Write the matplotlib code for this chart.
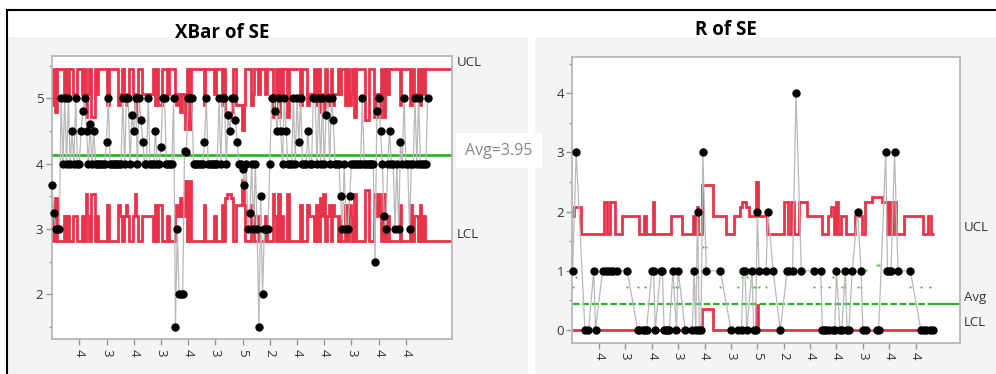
import numpy as np
import matplotlib
matplotlib.use('Agg')
import matplotlib.pyplot as plt
from matplotlib.patches import Rectangle
from matplotlib.lines import Line2D
from matplotlib.ticker import MultipleLocator

plt.rcParams['font.family'] = ['Open Sans', 'DejaVu Sans']

# ---------------- data
# subgroup means (XBar chart)
xbar = [3.67, 3.25, 3.0, 3.0, 3.0, 5.0, 4.0, 5.0, 4.0, 5.0,
        4.0, 4.5, 4.0, 5.0, 4.0, 4.0, 4.5, 4.8, 5.0, 4.5,
        4.0, 4.6, 4.0, 4.5, 4.0, 4.0, 4.0, 4.0, 4.0, 4.0,
        4.33, 5.0, 4.0, 4.0, 4.0, 4.0, 4.0, 4.0, 4.0, 5.0,
        4.0, 5.0, 5.0, 4.0, 4.75, 4.5, 5.0, 4.0, 5.0, 4.67,
        4.33, 4.0, 4.0, 5.0, 4.0, 4.0, 4.0, 4.5, 4.0, 4.0,
        4.25, 5.0, 5.0, 4.0, 4.0, 4.0, 4.0, 5.0, 1.5, 3.0,
        2.0, 2.0, 2.0, 4.2, 4.18, 5.0, 5.0, 5.0, 4.0, 4.0,
        4.0, 4.0, 4.0, 4.0, 4.33, 5.0, 4.0, 4.0, 4.0, 4.0,
        4.0, 4.0, 5.0, 4.0, 5.0, 5.0, 4.0, 4.75, 4.5, 5.0,
        5.0, 4.67, 4.33, 4.0, 4.0, 3.92, 3.67, 4.0, 3.0, 3.25,
        4.0, 3.0, 4.0, 3.0, 1.5, 3.5, 2.0, 3.0, 3.0, 3.0,
        4.0, 5.0, 5.0, 4.8, 4.5, 5.0, 4.5, 4.0, 5.0, 4.5,
        4.0, 4.0, 4.0, 5.0, 4.0, 5.0, 4.33, 5.0, 4.0, 4.0,
        4.0, 4.5, 4.0, 4.0, 5.0, 5.0, 4.0, 5.0, 4.0, 5.0,
        4.0, 4.75, 5.0, 4.0, 5.0, 4.67, 4.0, 4.0, 4.0, 3.5,
        3.0, 4.0, 3.0, 3.0, 3.5, 4.0, 4.0, 4.0, 4.0, 4.0,
        4.0, 5.0, 4.0, 4.0, 4.0, 4.0, 4.0, 4.0, 2.5, 4.8,
        5.0, 4.5, 4.0, 3.2, 3.0, 4.0, 4.5, 4.0, 4.0, 3.0,
        4.0, 3.0, 4.33, 4.0, 5.0, 4.0, 4.0, 3.0, 4.0, 4.0,
        5.0, 4.0, 5.0, 4.0, 4.0, 4.0, 4.0, 5.0]

# subgroup ranges (R chart), None where the subgroup has one value
_ = None
r_range = [1, _, 3, _, _, _, _, 0, _, 0,
           _, _, 1, 0, _, _, _, 1, _, 1,
           1, _, 1, 1, _, 1, _, _, _, _,
           _, 1, _, _, _, _, _, 0, 0, _,
           0, 0, 0, _, _, 1, 1, 0, _, _,
           1, 1, 0, 0, 0, 0, _, 1, _, 0,
           1, _, _, _, 0, _, _, _, 0, 1,
           0, 2, 0, 0, 3, _, 1, _, _, _,
           _, _, _, _, 1, _, _, _, _, _,
           0, _, _, _, 0, _, 0, 1, 1, 0,
           _, _, 1, 0, 0, 2, 1, _, _, _,
           1, 2, _, _, 1, _, _, _, 0, _,
           _, _, 1, 1, _, 1, _, 4, _, _,
           1, _, _, _, _, _, _, 1, _, _,
           _, 1, 0, 0, 0, _, 0, _, 0, 0,
           1, _, 0, 0, _, 1, 0, 0, _, 1,
           _, _, 2, _, 1, 0, _, 0, _, _,
           _, _, _, 0, 0, _, _, _, 3, 1,
           1, 1, _, 3, _, 1, _, _, _, _,
           _, _, 1, _, _, _, _, _, 0, _,
           0, 0, _, 0, _, 0, _, _]

# subgroup sample sizes
n_size = [3, 1, 4, 1, 1, 1, 1, 2, 1, 2,
          1, 1, 2, 2, 1, 1, 1, 2, 1, 5,
          2, 1, 5, 5, 1, 2, 1, 1, 1, 1,
          1, 3, 1, 1, 1, 1, 1, 3, 2, 1,
          2, 3, 2, 1, 1, 2, 5, 2, 1, 1,
          2, 2, 2, 2, 2, 2, 1, 3, 1, 3,
          3, 1, 1, 1, 2, 1, 1, 1, 2, 3,
          2, 4, 2, 2, 11, 1, 11, 1, 1, 1,
          1, 1, 1, 1, 3, 1, 1, 1, 1, 1,
          2, 1, 1, 1, 3, 1, 4, 5, 5, 4,
          1, 1, 3, 3, 3, 12, 3, 1, 1, 1,
          3, 2, 1, 1, 2, 1, 1, 1, 2, 1,
          1, 1, 5, 2, 1, 5, 1, 2, 1, 1,
          5, 1, 1, 1, 1, 1, 1, 3, 1, 1,
          1, 3, 2, 2, 2, 1, 3, 1, 4, 2,
          5, 1, 2, 3, 1, 3, 2, 2, 1, 2,
          1, 1, 3, 1, 3, 2, 1, 5, 1, 1,
          1, 1, 1, 6, 6, 1, 1, 1, 5, 2,
          5, 2, 1, 5, 1, 2, 1, 1, 1, 1,
          1, 1, 3, 1, 1, 1, 1, 1, 3, 1,
          2, 2, 1, 3, 1, 2, 1, 1]

tick_pos = [15, 30, 45, 60, 75, 90, 105, 120, 135, 150, 165, 180, 195]
tick_labels = ['4', '3', '4', '3', '4', '3', '5', '2', '4', '4', '3', '4', '4']

# limit levels, by sample size
xbar_center = 4.13
xbar_half = {1: 1.32, 2: 0.93, 3: 0.76, 4: 0.66, 5: 0.59, 6: 0.54, 11: 0.40, 12: 0.38}
r_ucl = {2: 1.63, 3: 1.93, 4: 2.08, 5: 2.17, 6: 2.24, 11: 2.45, 12: 2.5}
r_lcl = {2: 0.0, 3: 0.0, 4: 0.0, 5: 0.0, 6: 0.0, 11: 0.35, 12: 0.42}
r_center = {2: 0.44, 3: 0.73, 4: 0.9, 5: 1.02, 6: 1.1, 11: 1.4, 12: 1.45}

RED = '#e8334a'
GREEN = '#2ab52a'
LINE = '#b9b9b9'
TXT = '#333333'
XR = 220.4

fig = plt.figure(figsize=(9.96, 3.74), dpi=100)
W, H = 996.0, 374.0

# panel backgrounds and frame
fig.add_artist(Rectangle((8 / W, 0), 520 / W, 1 - 37 / H, transform=fig.transFigure,
                         facecolor='#f4f4f4', edgecolor='none', zorder=-5))
fig.add_artist(Rectangle((535 / W, 0), 461 / W, 1 - 37 / H, transform=fig.transFigure,
                         facecolor='#f4f4f4', edgecolor='none', zorder=-5))
fig.add_artist(Line2D([7 / W, 1], [1 - 10 / H, 1 - 10 / H], color='black', lw=1.5))
fig.add_artist(Line2D([7 / W, 7 / W], [0, 1 - 10 / H], color='black', lw=1.5))


def style_axes(ax, ylo, yhi):
    ax.set_facecolor('white')
    ax.set_xlim(-0.2, XR)
    ax.set_ylim(ylo, yhi)
    for s in ax.spines.values():
        s.set_color('#b3b3b3')
        s.set_linewidth(1.2)
    ax.yaxis.set_major_locator(MultipleLocator(1))
    ax.yaxis.set_minor_locator(MultipleLocator(0.5))
    ax.set_xticks(tick_pos)
    ax.set_xticklabels(tick_labels, rotation=-90)
    ax.tick_params(axis='both', which='major', length=4, width=1, color='#999999',
                   labelcolor=TXT, labelsize=9.5, pad=2)
    ax.tick_params(axis='y', which='minor', length=2.5, width=1, color='#999999')
    ax.tick_params(axis='x', pad=3)


########################### XBar chart
ax1 = fig.add_axes([51.7 / W, 1 - 339 / H, 400.3 / W, 283 / H])
style_axes(ax1, 1.318, 5.646)
x = np.arange(len(xbar))
half = np.array([xbar_half[k] for k in n_size] + [xbar_half[1]])
edges = np.r_[x - 0.5, x[-1] + 0.5, XR]
ax1.stairs(xbar_center + half, edges, baseline=None, color=RED, lw=2, zorder=1)
ax1.stairs(xbar_center - half, edges, baseline=None, color=RED, lw=2, zorder=1)
ax1.axhline(xbar_center, color=GREEN, lw=2, zorder=1.5)
ax1.plot(x, xbar, color=LINE, lw=0.9, zorder=2)
ax1.plot(x, xbar, 'o', color='black', ms=5, zorder=3, clip_on=False)

tr1 = ax1.get_yaxis_transform()
ax1.text(1.012, 5.55, 'UCL', transform=tr1, color=TXT, fontsize=9.5, va='center')
ax1.text(1.012, 2.91, 'LCL', transform=tr1, color=TXT, fontsize=9.5, va='center')
ax1.text(1.033, 4.2, 'Avg=3.95', transform=tr1, color='#888888', fontsize=11.5,
         va='center', bbox=dict(boxstyle='square,pad=0.6', fc='white', ec='none'))
fig.text(222 / W, 1 - 33 / H, 'XBar of SE', ha='center', va='center',
         fontsize=13.5, fontweight='bold', color='black')

########################### R chart
ax2 = fig.add_axes([572.3 / W, 1 - 342.7 / H, 388 / W, 286 / H])
style_axes(ax2, -0.215, 4.619)
rx = np.array([i for i, v in enumerate(r_range) if v is not None])
rv = np.array([r_range[i] for i in rx])
rn = [n_size[i] for i in rx]
redges = np.r_[rx[0] - 0.5, (rx[:-1] + rx[1:]) / 2, rx[-1] + 0.5]
ax2.stairs([r_ucl[k] for k in rn], redges, baseline=None, color=RED, lw=2, zorder=1)
ax2.stairs([r_lcl[k] for k in rn], redges, baseline=None, color=RED, lw=2, zorder=1)

# center line: dashed while data runs, solid after the last point
ax2.hlines(r_center[2], 0, rx[-1], color=GREEN, lw=1.6, linestyles=(0, (3, 1.2)), zorder=1.5)
ax2.hlines(r_center[2], rx[-1], XR, color=GREEN, lw=1.6, zorder=1.5)
big = [i for i, k in enumerate(rn) if k > 2]
ax2.plot(rx[big], [r_center[rn[i]] for i in big], 's', color=GREEN, ms=1.3,
         mec='none', zorder=1.5)

ax2.plot(rx, rv, color=LINE, lw=0.9, zorder=2)
ax2.plot(rx, rv, 'o', color='black', ms=5, zorder=3, clip_on=False)

tr2 = ax2.get_yaxis_transform()
ax2.text(1.01, 1.73, 'UCL', transform=tr2, color=TXT, fontsize=9.5, va='center')
ax2.text(1.01, 0.55, 'Avg', transform=tr2, color=TXT, fontsize=9.5, va='center')
ax2.text(1.01, 0.12, 'LCL', transform=tr2, color=TXT, fontsize=9.5, va='center')
fig.text(726 / W, 1 - 30 / H, 'R of SE', ha='center', va='center',
         fontsize=13.5, fontweight='bold', color='black')

fig.savefig('out.png', dpi=100)
